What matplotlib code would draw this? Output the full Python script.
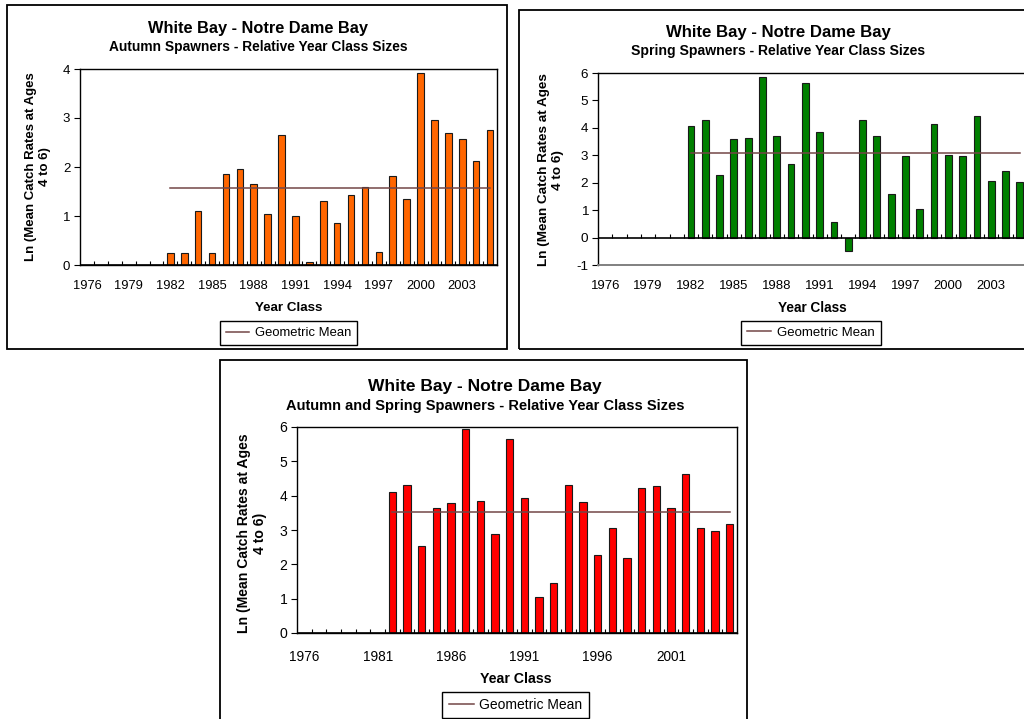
import numpy as np
import matplotlib.pyplot as plt
from matplotlib.patches import Rectangle

plt.rcParams['font.family'] = ['Liberation Sans', 'DejaVu Sans']

# year classes on the category axis; surveys start with the 1982 year class
years = np.arange(1976, 2006)
first_yc = 1982

# ln(mean catch rate, ages 4-6), year classes 1982..2005
autumn = [0.25, 0.25, 1.10, 0.25, 1.85, 1.95, 1.65, 1.05, 2.65, 1.00, 0.07, 1.30,
          0.85, 1.42, 1.60, 0.27, 1.82, 1.35, 3.92, 2.95, 2.70, 2.57, 2.12, 2.76]
spring = [4.07, 4.30, 2.28, 3.58, 3.62, 5.87, 3.70, 2.70, 5.62, 3.85, 0.57, -0.50,
          4.27, 3.70, 1.58, 2.97, 1.05, 4.15, 3.00, 2.97, 4.45, 2.07, 2.43, 2.03]
combined = [4.10, 4.32, 2.54, 3.65, 3.78, 5.93, 3.84, 2.89, 5.65, 3.93, 1.05, 1.47,
            4.32, 3.81, 2.28, 3.05, 2.19, 4.22, 4.28, 3.65, 4.63, 3.05, 2.98, 3.17]
autumn_gm = 1.57
spring_gm = 3.10
combined_gm = 3.52

title = 'White Bay - Notre Dame Bay'
ylab = 'Ln (Mean Catch Rates at Ages\n4 to 6)'

W, H = 1024, 719
fig = plt.figure(figsize=(W / 100, H / 100), dpi=100)


def fx(x):
    return x / W


def fy(y):
    return 1 - y / H


def panel(frame, box, vals, gm, color, subtitle, ylim, yticks, step,
          title_xy, ylab_xy, xlab_xy, leg_xy, fs=1.0, pad=11, gray_bottom=False):
    # outer chart frame
    l, t, r, b = frame
    fig.add_artist(Rectangle((fx(l), fy(b)), (r - l) / W, (b - t) / H,
                             transform=fig.transFigure, fill=False,
                             edgecolor='black', lw=1.3))
    l, t, r, b = box
    ax = fig.add_axes([fx(l), fy(b), (r - l) / W, (b - t) / H])
    idx = np.arange(len(years))
    k = list(years).index(first_yc)
    ax.bar(idx[k:], vals, width=0.48, color=color, edgecolor='#1a1a1a', lw=0.8,
           zorder=2)
    ax.plot(idx[k:], [gm] * len(vals), color='#734646', lw=1.1, zorder=3,
            label='Geometric Mean')
    ax.set_xlim(-0.5, len(years) - 0.5)
    ax.set_ylim(*ylim)
    ax.set_yticks(yticks)
    ax.set_yticklabels([str(v) for v in yticks], fontsize=9.5 * fs)
    ax.set_xticks(idx[::step])
    ax.set_xticklabels([str(y) for y in years[::step]], fontsize=9.3 * fs)
    ax.tick_params(axis='x', length=0, pad=pad)
    ax.tick_params(axis='y', direction='out', length=4, width=0.8, pad=3)
    for s in ax.spines.values():
        s.set_linewidth(1.0)
        s.set_color('black')
    if gray_bottom:
        ax.spines['bottom'].set_color('#808080')
        ax.spines['bottom'].set_linewidth(1.4)
    # category axis at zero with tick marks between year classes
    ax.axhline(0, color='black', lw=1.2, zorder=4)
    th = 4 * (ylim[1] - ylim[0]) / (b - t)
    ax.vlines(idx[:-1] + 0.5, 0, th, color='black', lw=0.8, zorder=4)

    fig.text(fx(title_xy[0]), fy(title_xy[1]), title, ha='center', va='center',
             fontsize=11.8 * fs, fontweight='bold')
    fig.text(fx(title_xy[0]), fy(title_xy[1] + 19 * fs), subtitle, ha='center',
             va='center', fontsize=9.9 * fs, fontweight='bold')
    fig.text(fx(ylab_xy[0]), fy(ylab_xy[1]), ylab, rotation=90, ha='center',
             va='center', multialignment='center', fontsize=9.5 * fs,
             fontweight='bold', linespacing=1.2)
    fig.text(fx(xlab_xy[0]), fy(xlab_xy[1]), 'Year Class', ha='center',
             va='center', fontsize=9.6 * fs, fontweight='bold')
    leg = ax.legend(loc='center', bbox_to_anchor=(fx(leg_xy[0]), fy(leg_xy[1])),
                    bbox_transform=fig.transFigure, fancybox=False,
                    edgecolor='black', fontsize=9.4 * fs, handlelength=1.8,
                    handletextpad=0.4, borderpad=0.45, framealpha=1)
    leg.get_frame().set_linewidth(1.0)
    return ax


panel((7, 5, 507, 349), (80, 69, 497, 265), autumn, autumn_gm, '#ff6600',
      'Autumn Spawners - Relative Year Class Sizes', (0, 4), [0, 1, 2, 3, 4], 3,
      (258, 28), (38, 167), (289, 308), (288.5, 333))

panel((519, 10, 1032, 349), (598, 73, 1027, 265), spring, spring_gm, '#008000',
      'Spring Spawners - Relative Year Class Sizes', (-1, 6),
      [-1, 0, 1, 2, 3, 4, 5, 6], 3,
      (778, 32), (551, 170), (812, 308), (811, 333), fs=1.02, gray_bottom=True)

panel((220, 360, 747, 730), (297, 427, 737, 633), combined, combined_gm, '#ff0000',
      'Autumn and Spring Spawners - Relative Year Class Sizes', (0, 6),
      [0, 1, 2, 3, 4, 5, 6], 5,
      (485, 386), (252, 533), (516, 679), (515.5, 705), fs=1.06, pad=12.5)

fig.savefig('out.png', dpi=100)
